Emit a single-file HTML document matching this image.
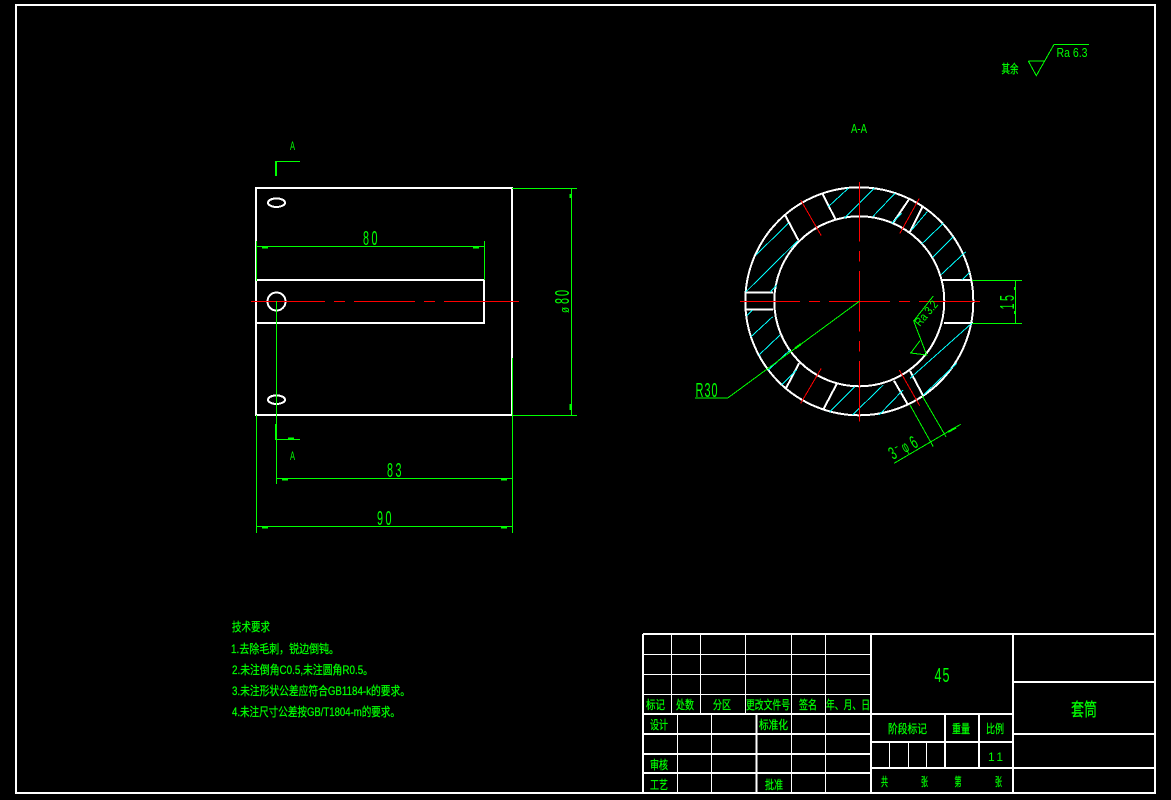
<!DOCTYPE html>
<html><head><meta charset="utf-8"><style>
html,body{margin:0;padding:0;background:#000;width:1171px;height:800px;overflow:hidden}
svg{display:block;shape-rendering:crispEdges}
.w{stroke:#fff;fill:none;stroke-width:2}
.t{stroke:#fff;fill:none;stroke-width:1}
.g{stroke:#0f0;fill:none;stroke-width:1}
.g2{stroke:#0f0;fill:none;stroke-width:2}
.r{stroke:#f00;fill:none;stroke-width:1}
.c{stroke:#0ff;fill:none;stroke-width:1}
text{fill:#0f0;font-family:"Liberation Sans","WenQuanYi Zen Hei",sans-serif}
.z{font-family:"Liberation Sans","WenQuanYi Zen Hei","Noto Sans CJK SC",sans-serif;font-size:12px;stroke:#0f0;stroke-width:.25}
.d{font-size:20px}
</style></head><body>
<svg width="1171" height="800" viewBox="0 0 1171 800" xmlns="http://www.w3.org/2000/svg">
<rect class="w" x="16" y="5" width="1139" height="788"/>

<!-- front view -->
<rect class="w" x="256" y="188" width="256" height="227"/>
<path class="w" d="M256 280H484V323H256"/>
<circle class="w" cx="276.5" cy="301.5" r="9"/>
<ellipse class="w" cx="276.5" cy="202.7" rx="8.5" ry="4.3"/>
<ellipse class="w" cx="276.5" cy="399.7" rx="8.5" ry="4.3"/>
<path class="r" d="M251 301.5H325M334 301.5H345M354 301.5H415M424 301.5H435M444 301.5H519"/>
<path class="g" d="M256.5 241V281M484.5 241V280M256 246.5H484M512 188.5H577M512 415.5H577M571.5 188V415M276.5 301V484M276 478.5H512M512.5 358V533M256.5 415V533M256 526.5H512"/>
<path class="g2" d="M262 247.5H268M473 247.5H479M282 479.5H288M501 479.5H507M262 527.5H268M501 527.5H507M570.5 194V198M570.5 404V410M288 438.5H294M1015 287V290M1015 311V314"/>
<path class="g2" d="M276 161V176M276 424V440"/>
<path class="g" d="M276 161.5H300M276 439.5H300"/>
<text x="290" y="150" font-size="12" textLength="5" lengthAdjust="spacingAndGlyphs">A</text>
<text x="290" y="460" font-size="12" textLength="5" lengthAdjust="spacingAndGlyphs">A</text>
<text class="d" x="363" y="245" textLength="6" lengthAdjust="spacingAndGlyphs">8</text>
<text class="d" x="371.5" y="245" textLength="6" lengthAdjust="spacingAndGlyphs">0</text>
<text class="d" x="387" y="477" textLength="6" lengthAdjust="spacingAndGlyphs">8</text>
<text class="d" x="395.5" y="477" textLength="6" lengthAdjust="spacingAndGlyphs">3</text>
<text class="d" x="377" y="525" textLength="6" lengthAdjust="spacingAndGlyphs">9</text>
<text class="d" x="385.5" y="525" textLength="6" lengthAdjust="spacingAndGlyphs">0</text>
<text transform="translate(569,313) rotate(-90)" font-size="13" textLength="6" lengthAdjust="spacingAndGlyphs">ø</text>
<text class="d" transform="translate(569,304) rotate(-90)" textLength="6" lengthAdjust="spacingAndGlyphs">8</text>
<text class="d" transform="translate(569,296) rotate(-90)" textLength="6" lengthAdjust="spacingAndGlyphs">0</text>

<!-- section view -->
<circle class="w" cx="859.3" cy="301.3" r="114"/>
<circle class="w" cx="859.3" cy="301.3" r="85"/>
<path class="w" d="M942 280H972M944 323H973M746 292.7H773M746 309.7H773M785 215L798.3 240M822.3 193.3L835.3 219M909 199.3L892.7 223.3M922.3 207.3L910 231.7M799 363.3L786 388.3M836.7 384L823.7 408.7M894 380.7L907.7 404.3M910 371L923.3 396"/>
<path class="c" d="M746 291.7L797.7 240.7M756 255L788.3 223.3M828.3 206.7L848.3 188.3M844 218.3L874.3 188.3M872.7 216.7L895 193.3M891.7 223.3L901.7 213.3M911.7 230L927.3 211.7M921.7 244L943.3 223.3M932.7 257.3L953.3 236.7M940.7 275L965.7 251.7M961.7 280L970 272.3M770 292.3L776.7 285M746.7 315.7L752.3 310M751 336.7L772.7 316.7M759 355L780 335M768.3 370L790 350M781.7 385L796.7 370M830 411.7L855 386.7M852.3 415L883.3 385M879 415L903 390M910 378.3L971.7 323.3M923.3 395L956.7 363.3"/>
<path class="r" d="M800.7 200L821.3 235.7M919.3 198.3L899.7 233.7M821.3 368.3L800.7 403.3M899.3 370L919.7 405.7"/>
<path class="r" d="M740 301.5H800M809 301.5H820M829 301.5H890M899 301.5H910M919 301.5H980M859.5 182V241.7M859.5 251V261.7M859.5 271V331.7M859.5 341V351.7M859.5 361V421.7"/>
<path class="g" d="M859.3 301.3L727.7 398H695M910 405L933.3 446.7M922.3 396L946 436.7M894 463.3L960.7 424.3M933.3 296L913.7 321L926.7 355L910.7 353L920 340.7"/>
<path class="g2" d="M948 432L956 427.5M795 348.5L801 344"/>
<path class="g" d="M972 280.5H1022M972 323.5H1022M1015.5 280V323"/>
<text class="d" x="695.5" y="397" textLength="8" lengthAdjust="spacingAndGlyphs">R</text>
<text class="d" x="704.5" y="397" textLength="6" lengthAdjust="spacingAndGlyphs">3</text>
<text class="d" x="711.5" y="397" textLength="6" lengthAdjust="spacingAndGlyphs">0</text>
<text class="d" transform="translate(1014,309.5) rotate(-90)" textLength="6" lengthAdjust="spacingAndGlyphs">1</text>
<text class="d" transform="translate(1014,301) rotate(-90)" textLength="6" lengthAdjust="spacingAndGlyphs">5</text>
<text transform="translate(893,460) rotate(-30)" font-size="18" textLength="6" lengthAdjust="spacingAndGlyphs">3</text>
<text transform="translate(896,451) rotate(-30)" font-size="12" textLength="4" lengthAdjust="spacingAndGlyphs">-</text>
<text transform="translate(905,453) rotate(-30)" font-size="16" textLength="6" lengthAdjust="spacingAndGlyphs">φ</text>
<text transform="translate(914,449) rotate(-30)" font-size="18" textLength="6" lengthAdjust="spacingAndGlyphs">6</text>
<text transform="translate(920,327) rotate(-50)" font-size="12" textLength="29" lengthAdjust="spacingAndGlyphs">Ra 3.2</text>
<text x="851" y="133" font-size="13" textLength="16" lengthAdjust="spacingAndGlyphs">A-A</text>

<!-- roughness -->
<path class="g" d="M1028.3 61H1045M1028.3 61L1036.3 75.7L1054 44.5H1089"/>
<text class="z" x="1001.5" y="73" textLength="17" lengthAdjust="spacingAndGlyphs">其余</text>
<text x="1056.5" y="57" font-size="13" textLength="31" lengthAdjust="spacingAndGlyphs">Ra 6.3</text>

<!-- notes -->
<text class="z" x="232" y="631" textLength="38" lengthAdjust="spacingAndGlyphs">技术要求</text>
<text class="z" x="231" y="653" textLength="108" lengthAdjust="spacingAndGlyphs">1.去除毛刺，锐边倒钝。</text>
<text class="z" x="232" y="674" textLength="141" lengthAdjust="spacingAndGlyphs">2.未注倒角C0.5,未注圆角R0.5。</text>
<text class="z" x="232" y="695" textLength="178" lengthAdjust="spacingAndGlyphs">3.未注形状公差应符合GB1184-k的要求。</text>
<text class="z" x="232" y="716" textLength="168" lengthAdjust="spacingAndGlyphs">4.未注尺寸公差按GB/T1804-m的要求。</text>

<!-- title block -->
<path class="t" d="M671.5 634V714M700.5 634V714M745.5 634V714M791.5 634V793M825.5 634V793M643 654.5H871M643 674.5H871M643 694.5H871M677.5 714V793M711.5 714V793M889.5 742V768M908.5 742V768M926.5 742V768"/>
<path class="w" d="M643 634H1155M643 634V793M871 634V793M1013 634V793M643 714H1013M643 734H871M643 754H871M643 773H871M756.5 714V793M945 714V768M979 714V768M871 742H1013M871 768H1155M1013 682H1155M1013 734H1155"/>
<text class="z" x="646" y="709" textLength="19" lengthAdjust="spacingAndGlyphs">标记</text>
<text class="z" x="676" y="709" textLength="18" lengthAdjust="spacingAndGlyphs">处数</text>
<text class="z" x="713" y="709" textLength="18" lengthAdjust="spacingAndGlyphs">分区</text>
<text class="z" x="746" y="709" textLength="44" lengthAdjust="spacingAndGlyphs">更改文件号</text>
<text class="z" x="799" y="709" textLength="18" lengthAdjust="spacingAndGlyphs">签名</text>
<text class="z" x="826" y="709" textLength="44" lengthAdjust="spacingAndGlyphs">年、月、日</text>
<text class="z" x="650" y="729" textLength="18" lengthAdjust="spacingAndGlyphs">设计</text>
<text class="z" x="759" y="729" textLength="29" lengthAdjust="spacingAndGlyphs">标准化</text>
<text class="z" x="650" y="769" textLength="18" lengthAdjust="spacingAndGlyphs">审核</text>
<text class="z" x="650" y="789" textLength="18" lengthAdjust="spacingAndGlyphs">工艺</text>
<text class="z" x="765" y="789" textLength="18" lengthAdjust="spacingAndGlyphs">批准</text>
<text class="z" x="888" y="733" textLength="39" lengthAdjust="spacingAndGlyphs">阶段标记</text>
<text class="z" x="952" y="733" textLength="18" lengthAdjust="spacingAndGlyphs">重量</text>
<text class="z" x="986" y="733" textLength="18" lengthAdjust="spacingAndGlyphs">比例</text>
<text x="988" y="761" font-size="12" textLength="15" lengthAdjust="spacing">1 1</text>
<text class="z" x="881" y="786" textLength="7" lengthAdjust="spacingAndGlyphs">共</text>
<text class="z" x="921" y="786" textLength="7" lengthAdjust="spacingAndGlyphs">张</text>
<text class="z" x="954.5" y="786" textLength="7" lengthAdjust="spacingAndGlyphs">第</text>
<text class="z" x="995" y="786" textLength="7" lengthAdjust="spacingAndGlyphs">张</text>
<text class="d" x="934.5" y="682" textLength="7" lengthAdjust="spacingAndGlyphs">4</text>
<text class="d" x="942.5" y="682" textLength="7" lengthAdjust="spacingAndGlyphs">5</text>
<text class="z" x="1071" y="716" style="font-size:18px" textLength="26" lengthAdjust="spacingAndGlyphs">套筒</text>
</svg>
</body></html>
